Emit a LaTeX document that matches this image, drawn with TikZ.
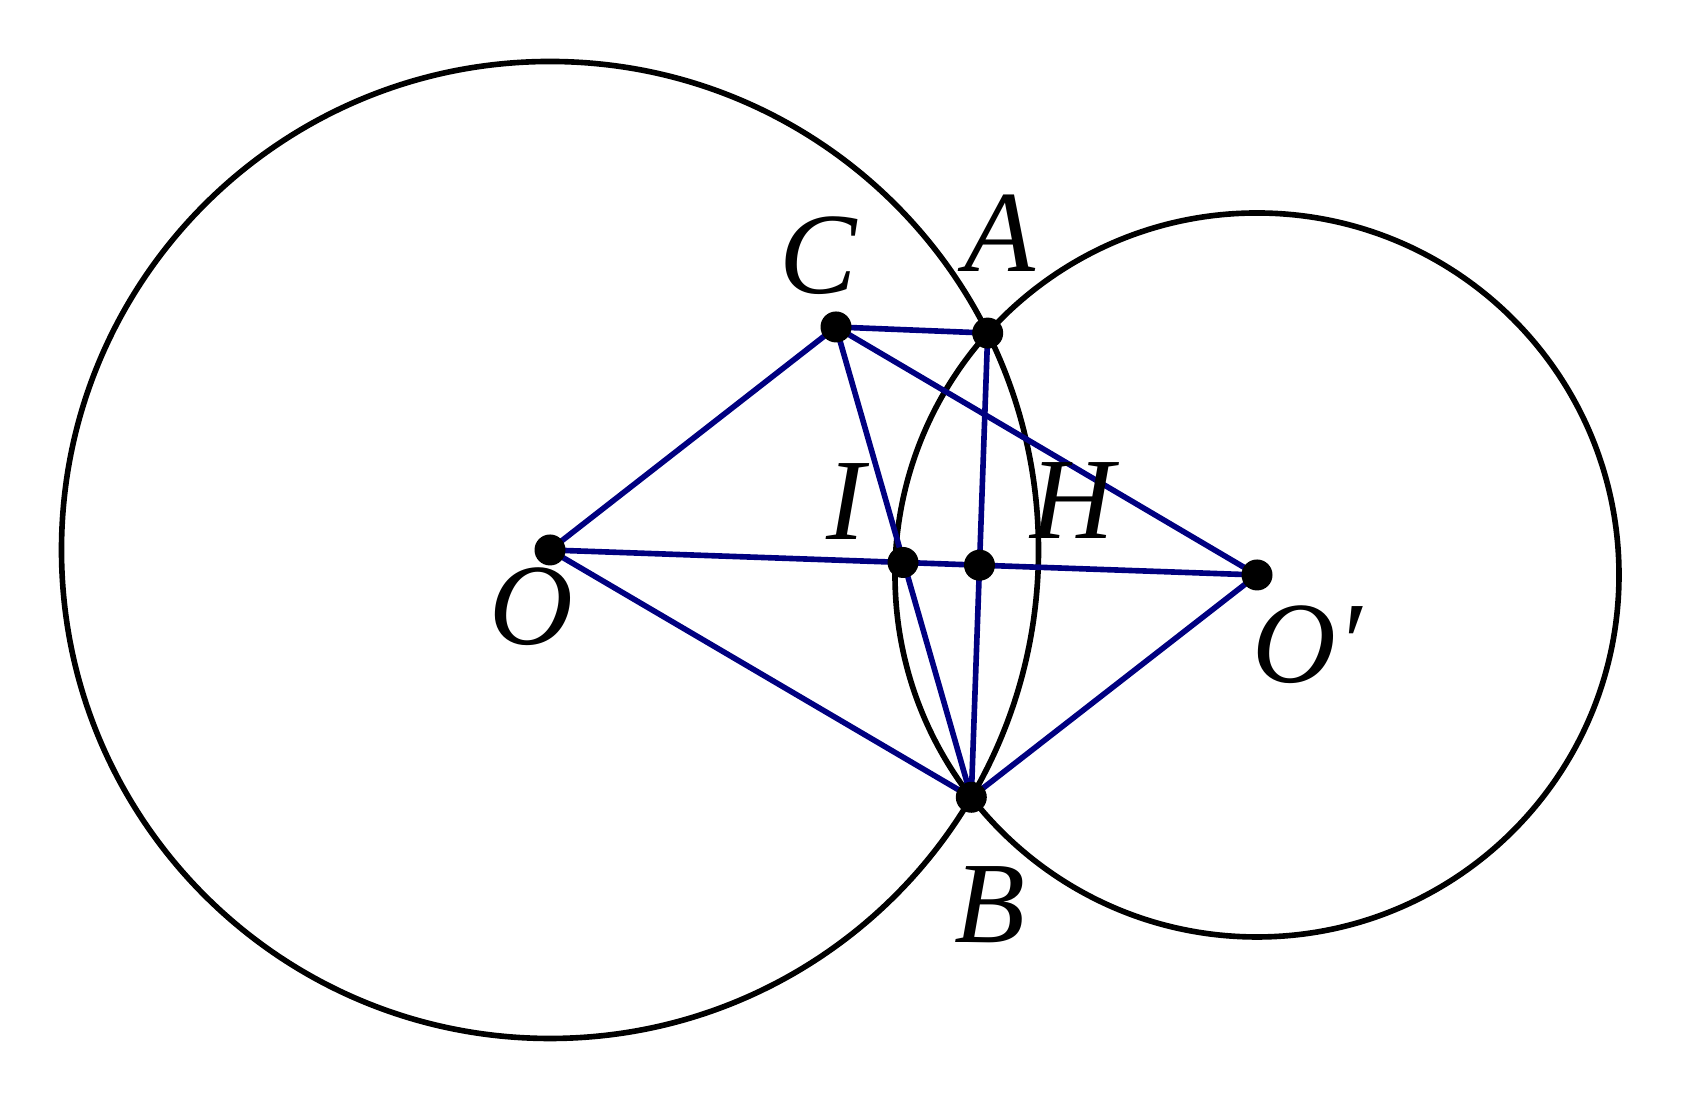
\documentclass[tikz,border=0pt]{standalone}
\usepackage{fontspec}
\setmainfont{Liberation Serif}
\definecolor{segblue}{RGB}{0,0,128}
\tikzset{
	rim/.style={draw=black,line width=1.6pt},
	seg/.style={draw=segblue,line width=1.6pt},
	lbl/.style={inner sep=0pt,anchor=base,font=\fontsize{33}{33}\selectfont\itshape}
}
\begin{document}
\begin{tikzpicture}
		\useasboundingbox (0,0) rectangle (16.82,11.01);

		\coordinate (O) at (5.50,5.51);
		\coordinate (Op) at (12.57,5.26);
		\coordinate (A) at (9.877,7.679);
		\coordinate (B) at (9.713,3.037);
		\coordinate (C) at (8.36,7.74);
		\coordinate (I) at (9.03,5.385);
		\coordinate (H) at (9.795,5.358);

		\path[rim] (O) circle (4.885);
		\path[rim] (Op) circle (3.62);

		\path[seg] (C) -- (A);
		\path[seg] (C) -- (O);
		\path[seg] (C) -- (Op);
		\path[seg] (C) -- (B);
		\path[seg] (O) -- (Op);
		\path[seg] (O) -- (B);
		\path[seg] (Op) -- (B);
		\path[seg] (A) -- (B);

		\path[fill] (O) circle (0.155) node[lbl,xshift=-0.19cm,yshift=-0.95cm] (lO) {O};
		\path[fill] (Op) circle (0.155) node[lbl,xshift=0.50cm,yshift=-1.08cm] (lOp) {O′};
		\path[fill] (A) circle (0.155) node[lbl,xshift=0.12cm,yshift=0.62cm] (lA) {A};
		\path[fill] (B) circle (0.155) node[lbl,xshift=0.19cm,yshift=-1.45cm] (lB) {B};
		\path[fill] (C) circle (0.155) node[lbl,xshift=-0.18cm,yshift=0.33cm] (lC) {C};
		\path[fill] (I) circle (0.155) node[lbl,xshift=-0.57cm,yshift=0.225cm] (lI) {I};
		\path[fill] (H) circle (0.155) node[lbl,xshift=0.93cm,yshift=0.27cm] (lH) {H};
	\end{tikzpicture}
\end{document}
